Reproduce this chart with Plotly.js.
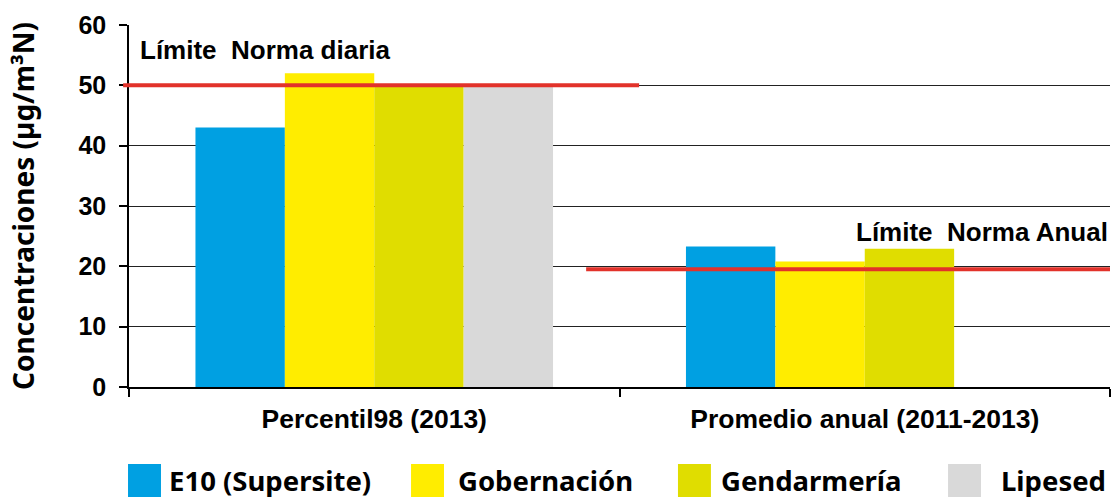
<!DOCTYPE html>
<html>
<head>
<meta charset="utf-8">
<script src="https://cdn.plot.ly/plotly-3.0.1.min.js"></script>
<style>
  body { margin: 0; background: #fff; }
  #chart { width: 1112px; height: 499px; }
</style>
</head>
<body>
<div id="chart"></div>
<script>
// categories and series
var categories = ['Percentil98 (2013)', 'Promedio anual (2011-2013)'];
var seriesNames = ['E10 (Supersite)', 'Gobernación', 'Gendarmería', 'Lipesed'];
var e10 = [43, 23.3];
var gobernacion = [52, 20.8];
var gendarmeria = [50, 22.9];
var lipesed = [50, null];
var seriesColors = ['#00a0e2', '#ffed00', '#e0dd00', '#d9d9d9'];

// norm limits
var limitValues = [50, 19.5];
var limitLabels = ['Límite  Norma diaria', 'Límite  Norma Anual'];

var seriesValues = [e10, gobernacion, gendarmeria, lipesed];

var data = seriesNames.map(function (name, i) {
  return {
    type: 'bar',
    name: name,
    x: categories,
    y: seriesValues[i],
    marker: { color: seriesColors[i] },
    showlegend: false,
    hoverinfo: 'x+y+name'
  };
});

var lineColor = '#e2322a';
var labelFont = { family: 'Liberation Sans, Arial', size: 26, color: '#000', weight: 'bold' };

var shapes = [
  { type: 'line', xref: 'paper', yref: 'y', x0: -0.006, x1: 0.52, y0: limitValues[0], y1: limitValues[0],
    line: { color: lineColor, width: 4 } },
  { type: 'line', xref: 'paper', yref: 'y', x0: 0.466, x1: 1.0, y0: limitValues[1], y1: limitValues[1],
    line: { color: lineColor, width: 4 } }
];

var annotations = [
  { xref: 'paper', yref: 'y', x: 0.009, y: 55.8, xanchor: 'left', yanchor: 'middle', showarrow: false,
    text: limitLabels[0], font: labelFont },
  { xref: 'paper', yref: 'y', x: 1.0, y: 25.7, xanchor: 'right', yanchor: 'middle', showarrow: false,
    text: limitLabels[1], font: labelFont }
];

// custom legend with big swatches
var swatchLeft = [-0.001, 0.2875, 0.5596, 0.8349];
var textLeft = [0.039, 0.3335, 0.6015, 0.887];
seriesNames.forEach(function (name, i) {
  shapes.push({ type: 'rect', xref: 'paper', yref: 'paper',
    x0: swatchLeft[i], x1: swatchLeft[i] + 0.0336, y0: -0.213, y1: -0.304,
    fillcolor: seriesColors[i], line: { width: 0 } });
  annotations.push({ xref: 'paper', yref: 'paper', x: textLeft[i], y: -0.258,
    xanchor: 'left', yanchor: 'middle', showarrow: false, text: name,
    font: { family: 'Noto Sans', size: 27.5, color: '#000', weight: 'bold' } });
});

var layout = {
  width: 1112,
  height: 499,
  margin: { l: 129, r: 2, t: 25, b: 112 },
  paper_bgcolor: '#fff',
  plot_bgcolor: '#fff',
  barmode: 'group',
  bargap: 0.271,
  bargroupgap: 0,
  showlegend: false,
  xaxis: {
    type: 'category',
    showline: true,
    linecolor: '#000',
    linewidth: 1.5,
    ticks: 'outside',
    tickson: 'boundaries',
    ticklen: 8,
    tickwidth: 1.5,
    tickcolor: '#000',
    ticklabelstandoff: 7,
    showgrid: false,
    tickfont: { family: 'Liberation Sans, Arial', size: 26.5, color: '#000', weight: 'bold' }
  },
  yaxis: {
    range: [0, 60],
    dtick: 10,
    showline: true,
    linecolor: '#000',
    linewidth: 1.5,
    ticks: 'outside',
    ticklen: 8,
    tickwidth: 1.5,
    tickcolor: '#000',
    ticklabelstandoff: 8,
    showgrid: true,
    gridcolor: '#222',
    gridwidth: 1,
    zeroline: false,
    tickfont: { family: 'Liberation Sans, Arial', size: 25, color: '#000', weight: 'bold' },
    title: {
      text: 'Concentraciones (µg/m³N)',
      standoff: 36,
      font: { family: 'Noto Sans', size: 28, color: '#000', weight: 'bold' }
    }
  },
  shapes: shapes,
  annotations: annotations
};

Plotly.newPlot('chart', data, layout, { displayModeBar: false });
</script>
</body>
</html>
